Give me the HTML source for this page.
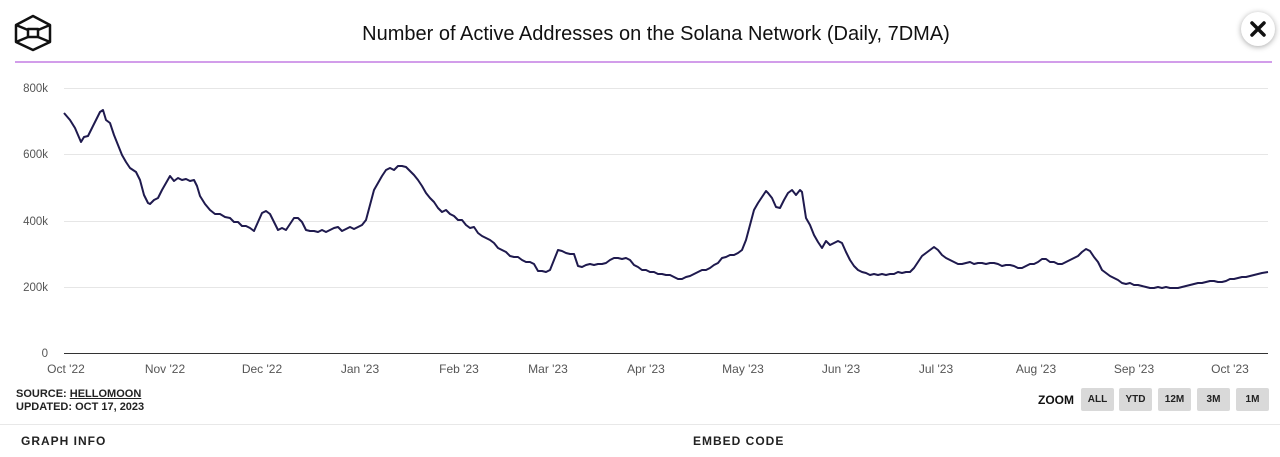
<!DOCTYPE html>
<html><head><style>
body{margin:0;width:1280px;height:457px;background:#fff;font-family:"Liberation Sans",sans-serif;position:relative;overflow:hidden}
.t{position:absolute;white-space:nowrap}
.btn{position:absolute;top:388px;width:33px;height:23px;background:#d9d9d9;border-radius:2px;font:bold 10px "Liberation Sans",sans-serif;color:#222;text-align:center;line-height:23px}
</style></head><body>
<svg width="1280" height="457" style="position:absolute;left:0;top:0">
<g fill="none" stroke="#111" stroke-width="2.5" stroke-linejoin="round">
<polygon points="33,16 50,25 50,42 33,50 16,42 16,25"/>
<line x1="16" y1="25" x2="28" y2="30"/><line x1="50" y1="25" x2="38" y2="30"/>
<line x1="16" y1="42" x2="28" y2="37"/><line x1="50" y1="42" x2="38" y2="37"/>
<rect x="28" y="29" width="10" height="8"/>
</g>
<line x1="15" y1="62" x2="1272" y2="62" stroke="#a63bd6" stroke-width="1"/>
<circle cx="1258" cy="29" r="17" fill="#fff" style="filter:drop-shadow(0 1px 3px rgba(0,0,0,.35))"/>
<path d="M1252,23 L1264,35 M1264,23 L1252,35" stroke="#111" stroke-width="3.5" stroke-linecap="round"/>
<g stroke="#e6e6e6" stroke-width="1">
<line x1="64" y1="88.5" x2="1268" y2="88.5"/><line x1="64" y1="154.5" x2="1268" y2="154.5"/>
<line x1="64" y1="221.5" x2="1268" y2="221.5"/><line x1="64" y1="287.5" x2="1268" y2="287.5"/>
</g>
<line x1="64" y1="353.5" x2="1268" y2="353.5" stroke="#333" stroke-width="1"/>
<g font-family="Liberation Sans" font-size="11.5" fill="#555" text-anchor="end">
<text x="48" y="92">800k</text><text x="48" y="158">600k</text><text x="48" y="225">400k</text><text x="48" y="291">200k</text><text x="48" y="357">0</text>
</g>
<g font-family="Liberation Sans" font-size="12" fill="#555" text-anchor="middle">
<text x="66" y="373">Oct '22</text><text x="165" y="373">Nov '22</text><text x="262" y="373">Dec '22</text><text x="360" y="373">Jan '23</text><text x="459" y="373">Feb '23</text><text x="548" y="373">Mar '23</text><text x="646" y="373">Apr '23</text><text x="743" y="373">May '23</text><text x="841" y="373">Jun '23</text><text x="936" y="373">Jul '23</text><text x="1036" y="373">Aug '23</text><text x="1134" y="373">Sep '23</text><text x="1230" y="373">Oct '23</text>
</g>
<polyline fill="none" stroke="#1f1a4e" stroke-width="2" stroke-linejoin="round" points="64,113 70,120 75,128 81,142 84,137 88,136 92,128 96,120 100,112 103,110 106,120 110,123 114,135 118,145 122,155 126,162 130,168 136,172 140,180 144,195 148,203 150,204 154,200 158,198 162,190 166,183 170,176 174,181 178,178 182,180 186,179 190,181 194,180 197,186 200,196 205,204 210,210 215,214 220,214 225,217 230,218 234,222 238,222 242,226 246,226 250,228 254,231 258,222 262,213 266,211 270,214 274,222 278,230 282,228 286,230 290,224 294,218 298,218 302,222 306,230 310,231 314,231 318,232 322,230 326,232 330,230 334,228 338,227 342,231 346,229 350,227 354,229 358,227 362,225 366,220 370,205 374,190 378,183 382,176 386,170 390,168 394,170 398,166 402,166 406,167 410,171 414,175 418,180 422,186 426,193 430,198 434,202 438,208 442,212 446,210 450,214 454,216 458,220 462,220 466,225 470,228 474,227 478,233 482,236 486,238 490,240 494,243 498,248 502,250 506,252 510,256 514,257 518,257 522,260 526,262 530,262 534,264 538,271 542,271 546,272 550,270 554,260 558,250 562,251 566,253 570,254 574,254 578,266 582,267 586,265 590,264 594,265 598,264 602,264 606,263 610,260 614,258 618,258 622,259 626,258 630,260 634,265 638,267 642,270 646,270 650,272 654,272 658,274 662,274 666,275 670,275 674,277 678,279 682,279 686,277 690,276 694,274 698,272 702,270 706,270 710,268 714,265 718,263 722,258 726,257 730,255 734,255 738,253 742,250 746,240 750,225 754,210 758,203 762,197 766,191 768,193 772,198 776,207 780,208 784,200 788,193 792,190 796,195 800,190 802,192 806,218 810,225 814,235 818,242 822,248 826,241 830,245 834,243 838,241 842,243 846,252 850,260 854,266 858,270 862,272 866,273 870,275 874,274 878,275 882,274 886,275 890,274 894,274 898,272 902,273 906,272 910,272 914,268 918,262 922,256 926,253 930,250 934,247 938,250 942,255 946,258 950,260 954,262 958,264 962,264 966,263 970,262 974,264 978,263 982,263 986,264 990,263 994,263 998,264 1002,266 1006,265 1010,265 1014,266 1018,268 1022,268 1026,266 1030,264 1034,264 1038,262 1042,259 1046,259 1050,262 1054,262 1058,264 1062,264 1066,262 1070,260 1074,258 1078,256 1082,252 1086,249 1090,251 1094,257 1098,262 1102,270 1106,273 1110,276 1114,278 1118,280 1122,283 1126,284 1130,283 1134,285 1138,285 1142,286 1146,287 1150,288 1154,288 1158,287 1162,288 1166,287 1170,288 1174,288 1178,288 1182,287 1186,286 1190,285 1194,284 1198,283 1202,283 1206,282 1210,281 1214,281 1218,282 1222,282 1226,281 1230,279 1234,279 1238,278 1242,277 1246,277 1250,276 1254,275 1258,274 1262,273 1268,272"/>
<line x1="0" y1="424.5" x2="1280" y2="424.5" stroke="#e8e8e8"/>
</svg>
<div class="t" style="left:0;width:1312px;text-align:center;top:23px;font-size:20px;color:#111">Number of Active Addresses on the Solana Network (Daily, 7DMA)</div>
<div class="t" style="left:16px;top:388px;font-size:11px;font-weight:bold;color:#222;line-height:13px">SOURCE: <u>HELLOMOON</u><br>UPDATED: OCT 17, 2023</div>
<div class="t" style="left:1038px;top:393px;font-size:12px;font-weight:bold;color:#111">ZOOM</div>
<div class="btn" style="left:1081px">ALL</div><div class="btn" style="left:1119px">YTD</div><div class="btn" style="left:1158px">12M</div><div class="btn" style="left:1197px">3M</div><div class="btn" style="left:1236px">1M</div>
<div class="t" style="left:21px;top:434px;font-size:12px;font-weight:bold;letter-spacing:1px;color:#222">GRAPH INFO</div>
<div class="t" style="left:693px;top:434px;font-size:12px;font-weight:bold;letter-spacing:1px;color:#222">EMBED CODE</div>
</body></html>
